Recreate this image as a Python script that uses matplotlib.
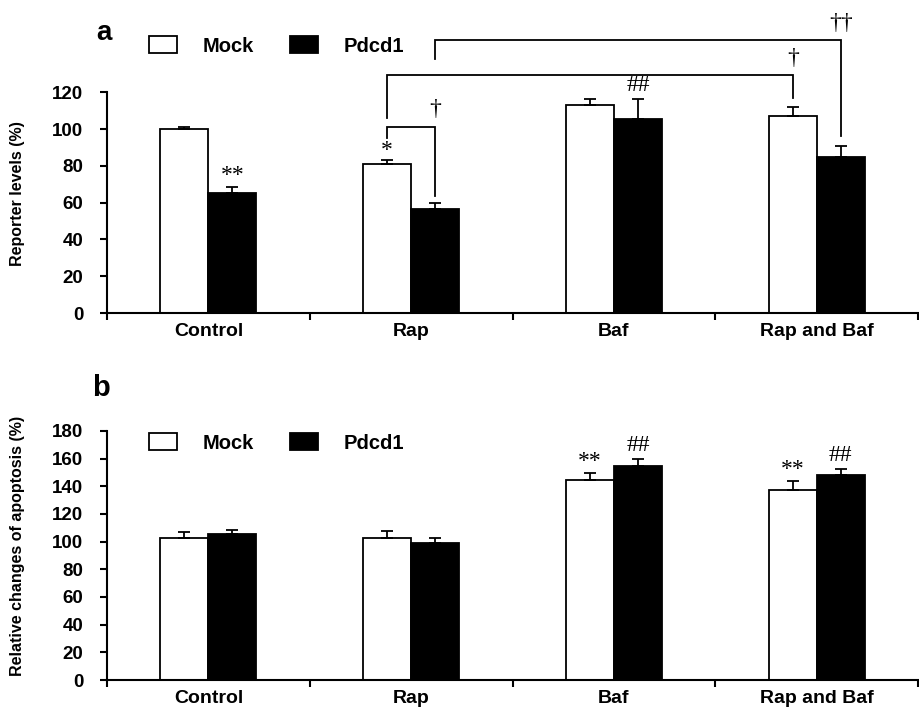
import numpy as np
import matplotlib.pyplot as plt

plt.rcParams['font.family'] = ['Liberation Sans', 'DejaVu Sans']
plt.rcParams['font.weight'] = 'bold'

groups = ["Control", "Rap", "Baf", "Rap and Baf"]
series = ["Mock", "Pdcd1"]

# panel a: reporter levels (%)
rep_mock = [100, 81, 113.3, 107]
rep_mock_err = [1, 2, 3, 5]
rep_pdcd1 = [65.5, 56.5, 105.7, 84.8]
rep_pdcd1_err = [3, 3.5, 10.5, 6]

# panel b: relative changes of apoptosis (%)
apo_mock = [102.9, 102.9, 144.6, 137.1]
apo_mock_err = [3.9, 4.8, 5, 6.7]
apo_pdcd1 = [105.3, 99, 154.5, 148.2]
apo_pdcd1_err = [3, 4, 5.3, 4]

# marks over bars: (group, series, text)
rep_marks = [(0, 1, "**"), (1, 0, "*"), (2, 1, "##")]
apo_marks = [(2, 0, "**"), (2, 1, "##"), (3, 0, "**"), (3, 1, "##")]

# brackets: (group1, series1, group2, series2, level, left foot, right foot, text)
rep_brackets = [
    (1, 0, 1, 1, 101.4, 95.4, 63.4, "\u2020"),
    (1, 0, 3, 0, 129.5, 106.2, 117, "\u2020"),
    (1, 1, 3, 1, 148.5, 138, 96.5, "\u2020\u2020"),
]

W = 0.237
SERIF = ['Liberation Serif', 'DejaVu Serif']
MARK_OFFSET = {"*": 7, "**": 8, "##": 10}


def bar_x(g, s):
    return g + 0.5 + (s - 0.5) * W


def draw_panel(ax, mock, mock_err, pdcd1, pdcd1_err, ymax, ylabel, marks):
    idx = np.arange(len(groups))
    handles = []
    for s, (vals, err, col) in enumerate([(mock, mock_err, 'white'),
                                           (pdcd1, pdcd1_err, 'black')]):
        b = ax.bar(bar_x(idx, s), vals, W, color=col, edgecolor='black',
                   linewidth=1.3, yerr=[np.zeros(len(vals)), err], capsize=4.5,
                   error_kw=dict(elinewidth=1.3, capthick=1.3, ecolor='black'),
                   label=series[s])
        handles.append(b)
    ax.set_xlim(0, len(groups))
    ax.set_ylim(0, ymax)
    ax.set_yticks(np.arange(0, ymax + 1, 20))
    ax.set_xticks(idx + 0.5)
    ax.set_xticklabels(groups)
    ax.set_xticks(np.arange(len(groups) + 1), minor=True)
    ax.tick_params(axis='x', which='major', length=0, pad=7, labelsize=14)
    ax.tick_params(axis='x', which='minor', length=5, width=1.5, direction='out')
    ax.tick_params(axis='y', length=5, width=1.5, direction='out', pad=12, labelsize=13.5)
    for sp in ['top', 'right']:
        ax.spines[sp].set_visible(False)
    for sp in ['left', 'bottom']:
        ax.spines[sp].set_linewidth(1.5)
    ax.set_ylabel(ylabel, fontsize=11.5, fontweight='bold')
    ax.yaxis.set_label_coords(-0.101, 0.54)

    tops = [np.array(mock) + np.array(mock_err), np.array(pdcd1) + np.array(pdcd1_err)]
    for g, s, t in marks:
        ax.annotate(t, xy=(bar_x(g, s), tops[s][g]), xytext=(0, MARK_OFFSET[t]),
                    textcoords='offset points', ha='center', va='center',
                    fontsize=17, fontweight='normal', family=SERIF,
                    annotation_clip=False)
    return handles


fig = plt.figure(figsize=(9.2, 7.14), dpi=100)
ax1 = fig.add_axes([0.1163, 0.5616, 0.8817, 0.3091])
ax2 = fig.add_axes([0.1163, 0.0476, 0.8817, 0.3488])

h1 = draw_panel(ax1, rep_mock, rep_mock_err, rep_pdcd1, rep_pdcd1_err, 120,
                "Reporter levels (%)", rep_marks)
h2 = draw_panel(ax2, apo_mock, apo_mock_err, apo_pdcd1, apo_pdcd1_err, 180,
                "Relative changes of apoptosis (%)", apo_marks)

# significance brackets in panel a
for g1, s1, g2, s2, lev, f1, f2, t in rep_brackets:
    x1, x2 = bar_x(g1, s1), bar_x(g2, s2)
    ax1.plot([x1, x1, x2, x2], [f1, lev, lev, f2], color='black', lw=1.3,
             clip_on=False, solid_joinstyle='miter')
    ax1.annotate(t, xy=(x2, lev), xytext=(0, 12), textcoords='offset points',
                 ha='center', va='center', fontsize=17, fontweight='normal',
                 family=SERIF, annotation_clip=False)

for ax, h, yanc in [(ax1, h1, 1.21), (ax2, h2, 0.952)]:
    ax.legend(h, series, loc='center left', bbox_to_anchor=(0.052, yanc),
              ncol=2, frameon=False, fontsize=14.5, handlelength=1.4,
              handleheight=0.9, handletextpad=1.25, columnspacing=1.8,
              borderpad=0, borderaxespad=0)

fig.text(0.113, 0.954, "a", fontsize=20, fontweight='bold', ha='center', va='center')
fig.text(0.110, 0.457, "b", fontsize=21, fontweight='bold', ha='center', va='center')

fig.savefig("out.png", dpi=100)
